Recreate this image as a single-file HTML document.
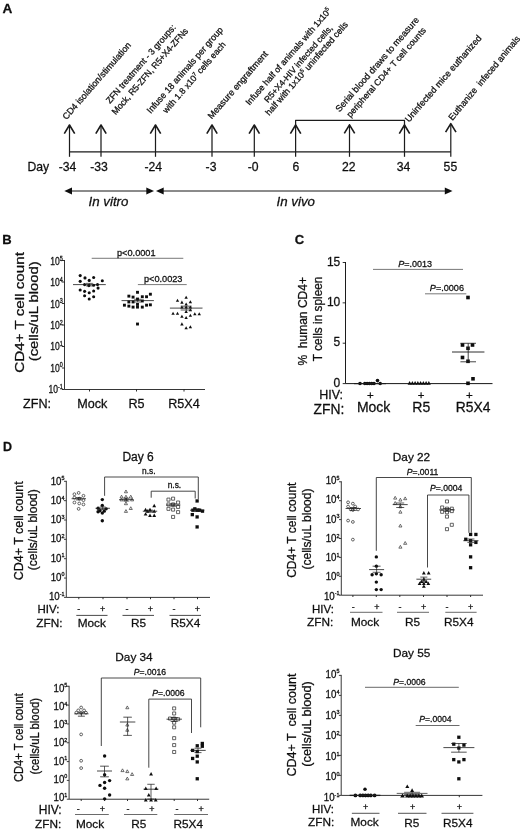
<!DOCTYPE html>
<html><head><meta charset="utf-8"><title>Figure</title>
<style>
html,body{margin:0;padding:0;background:#fff;}
svg{display:block;font-family:'Liberation Sans', sans-serif;}
text{stroke:#111;stroke-width:0.28px;}
</style></head>
<body>
<svg width="520" height="830" viewBox="0 0 520 830" font-family="Liberation Sans, sans-serif">
<defs><filter id="soft" x="0" y="0" width="520" height="830" filterUnits="userSpaceOnUse"><feGaussianBlur stdDeviation="0.38"/></filter></defs>
<rect width="520" height="830" fill="#fff"/>
<g filter="url(#soft)" stroke-linejoin="round">
<text x="2.50" y="13.20" font-size="13.6" text-anchor="start" font-weight="bold" font-style="normal" fill="#111" >A</text>
<line x1="69.50" y1="151.80" x2="450.80" y2="151.80" stroke="#1a1a1a" stroke-width="1.2"/>
<line x1="69.50" y1="125.50" x2="69.50" y2="156.80" stroke="#1a1a1a" stroke-width="1.2"/>
<path d="M64.30,133.60 L69.50,125.00 L74.70,133.60" stroke="#1a1a1a" stroke-width="1.6" fill="none"/>
<line x1="101.00" y1="125.50" x2="101.00" y2="156.80" stroke="#1a1a1a" stroke-width="1.2"/>
<path d="M95.80,133.60 L101.00,125.00 L106.20,133.60" stroke="#1a1a1a" stroke-width="1.6" fill="none"/>
<line x1="155.50" y1="125.50" x2="155.50" y2="156.80" stroke="#1a1a1a" stroke-width="1.2"/>
<path d="M150.30,133.60 L155.50,125.00 L160.70,133.60" stroke="#1a1a1a" stroke-width="1.6" fill="none"/>
<line x1="212.00" y1="125.50" x2="212.00" y2="156.80" stroke="#1a1a1a" stroke-width="1.2"/>
<path d="M206.80,133.60 L212.00,125.00 L217.20,133.60" stroke="#1a1a1a" stroke-width="1.6" fill="none"/>
<line x1="254.30" y1="125.50" x2="254.30" y2="156.80" stroke="#1a1a1a" stroke-width="1.2"/>
<path d="M249.10,133.60 L254.30,125.00 L259.50,133.60" stroke="#1a1a1a" stroke-width="1.6" fill="none"/>
<line x1="295.60" y1="125.50" x2="295.60" y2="156.80" stroke="#1a1a1a" stroke-width="1.2"/>
<path d="M290.40,133.60 L295.60,125.00 L300.80,133.60" stroke="#1a1a1a" stroke-width="1.6" fill="none"/>
<line x1="349.50" y1="125.30" x2="349.50" y2="156.80" stroke="#1a1a1a" stroke-width="1.2"/>
<path d="M344.30,133.40 L349.50,124.80 L354.70,133.40" stroke="#1a1a1a" stroke-width="1.6" fill="none"/>
<line x1="404.50" y1="125.50" x2="404.50" y2="156.80" stroke="#1a1a1a" stroke-width="1.2"/>
<path d="M399.30,133.60 L404.50,125.00 L409.70,133.60" stroke="#1a1a1a" stroke-width="1.6" fill="none"/>
<line x1="450.80" y1="124.10" x2="450.80" y2="156.80" stroke="#1a1a1a" stroke-width="1.2"/>
<path d="M445.60,132.20 L450.80,123.60 L456.00,132.20" stroke="#1a1a1a" stroke-width="1.6" fill="none"/>
<path d="M295.6,126 L295.6,120.4 L404.5,120.4 L404.5,126" stroke="#1a1a1a" stroke-width="1.2" fill="none"/>
<text x="27.50" y="170.80" font-size="12.2" text-anchor="start" font-weight="normal" font-style="normal" fill="#111" >Day</text>
<text x="67.50" y="170.80" font-size="12.2" text-anchor="middle" font-weight="normal" font-style="normal" fill="#111" >-34</text>
<text x="99.00" y="170.80" font-size="12.2" text-anchor="middle" font-weight="normal" font-style="normal" fill="#111" >-33</text>
<text x="153.20" y="170.80" font-size="12.2" text-anchor="middle" font-weight="normal" font-style="normal" fill="#111" >-24</text>
<text x="211.00" y="170.80" font-size="12.2" text-anchor="middle" font-weight="normal" font-style="normal" fill="#111" >-3</text>
<text x="253.20" y="170.80" font-size="12.2" text-anchor="middle" font-weight="normal" font-style="normal" fill="#111" >-0</text>
<text x="296.00" y="170.80" font-size="12.2" text-anchor="middle" font-weight="normal" font-style="normal" fill="#111" >6</text>
<text x="348.80" y="170.80" font-size="12.2" text-anchor="middle" font-weight="normal" font-style="normal" fill="#111" >22</text>
<text x="403.50" y="170.80" font-size="12.2" text-anchor="middle" font-weight="normal" font-style="normal" fill="#111" >34</text>
<text x="450.40" y="170.80" font-size="12.2" text-anchor="middle" font-weight="normal" font-style="normal" fill="#111" >55</text>
<line x1="70.00" y1="191.00" x2="148.00" y2="191.00" stroke="#1a1a1a" stroke-width="1.0"/>
<path d="M64.3,191 L72.0,187.6 L72.0,194.4 Z" fill="#111"/>
<path d="M154,191 L146.3,187.6 L146.3,194.4 Z" fill="#111"/>
<line x1="162.00" y1="191.00" x2="446.00" y2="191.00" stroke="#1a1a1a" stroke-width="1.0"/>
<path d="M156,191 L163.7,187.6 L163.7,194.4 Z" fill="#111"/>
<path d="M452.5,191 L444.8,187.6 L444.8,194.4 Z" fill="#111"/>
<text x="88.50" y="206.30" font-size="13.3" text-anchor="start" font-weight="normal" font-style="italic" fill="#111" >In vitro</text>
<text x="276.50" y="206.00" font-size="13.3" text-anchor="start" font-weight="normal" font-style="italic" fill="#111" >In vivo</text>
<text transform="translate(66.50,120.25) rotate(-49)" font-size="9.05" text-anchor="start" fill="#111" textLength="99" lengthAdjust="spacingAndGlyphs">CD4 isolation/stimulation</text>
<text transform="translate(110.00,104.00) rotate(-49)" font-size="9.05" text-anchor="start" fill="#111" textLength="101" lengthAdjust="spacingAndGlyphs">ZFN treatment - 3 groups:</text>
<text transform="translate(115.80,115.20) rotate(-49)" font-size="9.05" text-anchor="start" fill="#111" textLength="111" lengthAdjust="spacingAndGlyphs">Mock, R5-ZFN, R5+X4-ZFNs</text>
<text transform="translate(150.75,114.00) rotate(-49)" font-size="9.05" text-anchor="start" fill="#111" textLength="111" lengthAdjust="spacingAndGlyphs">Infuse 18 animals per group</text>
<text transform="translate(166.50,113.75) rotate(-49)" font-size="8.75" text-anchor="start" fill="#111" >with 1.8 x10<tspan font-size="5.6" dy="-3.2">7</tspan><tspan dy="3.2"> cells each</tspan></text>
<text transform="translate(211.75,119.50) rotate(-49)" font-size="9.05" text-anchor="start" fill="#111" textLength="86.5" lengthAdjust="spacingAndGlyphs">Measure engraftment</text>
<text transform="translate(249.50,105.75) rotate(-49)" font-size="8.78" text-anchor="start" fill="#111" >Infuse half of animals with 1x10<tspan font-size="5.6" dy="-3.2">5</tspan></text>
<text transform="translate(268.00,103.30) rotate(-49)" font-size="8.7" text-anchor="start" fill="#111" >R5+X4-HIV infected cells,</text>
<text transform="translate(269.25,116.00) rotate(-49)" font-size="8.85" text-anchor="start" fill="#111" >half with 1x10<tspan font-size="5.6" dy="-3.2">5</tspan><tspan dy="3.2"> uninfected cells</tspan></text>
<text transform="translate(339.50,112.50) rotate(-49)" font-size="9.05" text-anchor="start" fill="#111" >Serial blood draws to measure</text>
<text transform="translate(350.50,118.00) rotate(-49)" font-size="8.8" text-anchor="start" fill="#111" >peripheral CD4+ T cell counts</text>
<text transform="translate(408.90,122.70) rotate(-49)" font-size="9.05" text-anchor="start" fill="#111" >Uninfected mice euthanized</text>
<text transform="translate(452.40,120.90) rotate(-50.2)" font-size="9.05" text-anchor="start" fill="#111" xml:space="preserve" textLength="106.5" lengthAdjust="spacingAndGlyphs">Euthanize  infeced animals</text>
<text x="2.30" y="243.80" font-size="13" text-anchor="start" font-weight="bold" font-style="normal" fill="#111" >B</text>
<line x1="64.50" y1="260.00" x2="64.50" y2="389.50" stroke="#2a2a2a" stroke-width="0.95"/>
<line x1="64.50" y1="389.50" x2="205.00" y2="389.50" stroke="#2a2a2a" stroke-width="0.95"/>
<line x1="62.00" y1="260.50" x2="64.50" y2="260.50" stroke="#1a1a1a" stroke-width="0.9"/>
<text transform="translate(62.70,265.15) scale(0.84,1)" font-size="10.2" text-anchor="end" fill="#111">10<tspan font-size="6.4" dy="-4.39">5</tspan></text>
<line x1="62.00" y1="282.00" x2="64.50" y2="282.00" stroke="#1a1a1a" stroke-width="0.9"/>
<text transform="translate(62.70,286.47) scale(0.84,1)" font-size="10.2" text-anchor="end" fill="#111">10<tspan font-size="6.4" dy="-4.39">4</tspan></text>
<line x1="62.00" y1="303.50" x2="64.50" y2="303.50" stroke="#1a1a1a" stroke-width="0.9"/>
<text transform="translate(62.70,307.78) scale(0.84,1)" font-size="10.2" text-anchor="end" fill="#111">10<tspan font-size="6.4" dy="-4.39">3</tspan></text>
<line x1="62.00" y1="325.00" x2="64.50" y2="325.00" stroke="#1a1a1a" stroke-width="0.9"/>
<text transform="translate(62.70,329.10) scale(0.84,1)" font-size="10.2" text-anchor="end" fill="#111">10<tspan font-size="6.4" dy="-4.39">2</tspan></text>
<line x1="62.00" y1="346.50" x2="64.50" y2="346.50" stroke="#1a1a1a" stroke-width="0.9"/>
<text transform="translate(62.70,350.42) scale(0.84,1)" font-size="10.2" text-anchor="end" fill="#111">10<tspan font-size="6.4" dy="-4.39">1</tspan></text>
<line x1="62.00" y1="368.00" x2="64.50" y2="368.00" stroke="#1a1a1a" stroke-width="0.9"/>
<text transform="translate(62.70,371.73) scale(0.84,1)" font-size="10.2" text-anchor="end" fill="#111">10<tspan font-size="6.4" dy="-4.39">0</tspan></text>
<line x1="62.00" y1="389.50" x2="64.50" y2="389.50" stroke="#1a1a1a" stroke-width="0.9"/>
<text transform="translate(62.70,393.05) scale(0.84,1)" font-size="10.2" text-anchor="end" fill="#111">10<tspan font-size="6.4" dy="-4.39">-1</tspan></text>
<line x1="89.50" y1="389.50" x2="89.50" y2="391.50" stroke="#1a1a1a" stroke-width="0.9"/>
<line x1="136.50" y1="389.50" x2="136.50" y2="391.50" stroke="#1a1a1a" stroke-width="0.9"/>
<line x1="184.00" y1="389.50" x2="184.00" y2="391.50" stroke="#1a1a1a" stroke-width="0.9"/>
<text transform="translate(23.60,312.40) rotate(-90)" font-size="12.5" text-anchor="middle" fill="#111" textLength="120.5" lengthAdjust="spacingAndGlyphs">CD4+ T cell count</text>
<text transform="translate(38.30,311.30) rotate(-90)" font-size="12.5" text-anchor="middle" fill="#111" textLength="100" lengthAdjust="spacingAndGlyphs">(cells/uL blood)</text>
<text x="23.00" y="407.50" font-size="12.6" text-anchor="start" font-weight="normal" font-style="normal" fill="#111" >ZFN:</text>
<text x="92.20" y="407.50" font-size="12.6" text-anchor="middle" font-weight="normal" font-style="normal" fill="#111" >Mock</text>
<text x="136.50" y="407.50" font-size="12.6" text-anchor="middle" font-weight="normal" font-style="normal" fill="#111" >R5</text>
<text x="184.00" y="407.50" font-size="12.6" text-anchor="middle" font-weight="normal" font-style="normal" fill="#111" >R5X4</text>
<line x1="91.70" y1="258.30" x2="183.30" y2="258.30" stroke="#555" stroke-width="0.8"/>
<text x="136.30" y="255.80" font-size="9.2" text-anchor="middle" font-weight="normal" font-style="normal" fill="#111" >p&lt;0.0001</text>
<line x1="137.90" y1="284.60" x2="186.70" y2="284.60" stroke="#555" stroke-width="0.8"/>
<text x="163.20" y="281.70" font-size="9.2" text-anchor="middle" font-weight="normal" font-style="normal" fill="#111" >p&lt;0.0023</text>
<circle cx="80.19" cy="275.58" r="1.55" fill="#111"/>
<circle cx="85.00" cy="277.88" r="1.55" fill="#111"/>
<circle cx="93.65" cy="277.50" r="1.55" fill="#111"/>
<circle cx="80.19" cy="281.35" r="1.55" fill="#111"/>
<circle cx="89.23" cy="280.38" r="1.55" fill="#111"/>
<circle cx="102.31" cy="280.77" r="1.55" fill="#111"/>
<circle cx="84.62" cy="284.62" r="1.55" fill="#111"/>
<circle cx="88.85" cy="285.58" r="1.55" fill="#111"/>
<circle cx="93.65" cy="285.19" r="1.55" fill="#111"/>
<circle cx="97.50" cy="284.62" r="1.55" fill="#111"/>
<circle cx="98.08" cy="288.08" r="1.55" fill="#111"/>
<circle cx="80.19" cy="290.00" r="1.55" fill="#111"/>
<circle cx="84.62" cy="291.35" r="1.55" fill="#111"/>
<circle cx="93.65" cy="290.96" r="1.55" fill="#111"/>
<circle cx="89.23" cy="292.69" r="1.55" fill="#111"/>
<circle cx="84.62" cy="295.77" r="1.55" fill="#111"/>
<circle cx="93.65" cy="296.73" r="1.55" fill="#111"/>
<circle cx="89.23" cy="299.04" r="1.55" fill="#111"/>
<line x1="73.00" y1="284.60" x2="105.80" y2="284.60" stroke="#1a1a1a" stroke-width="0.8"/>
<line x1="85.90" y1="283.40" x2="92.90" y2="283.40" stroke="#1a1a1a" stroke-width="0.7200000000000001"/>
<line x1="85.90" y1="285.90" x2="92.90" y2="285.90" stroke="#1a1a1a" stroke-width="0.7200000000000001"/>
<line x1="89.40" y1="283.40" x2="89.40" y2="285.90" stroke="#1a1a1a" stroke-width="0.7200000000000001"/>
<rect x="136.05" y="290.86" width="2.9" height="2.9" fill="#111"/>
<rect x="148.93" y="292.78" width="2.9" height="2.9" fill="#111"/>
<rect x="127.40" y="294.70" width="2.9" height="2.9" fill="#111"/>
<rect x="131.63" y="295.67" width="2.9" height="2.9" fill="#111"/>
<rect x="140.86" y="295.28" width="2.9" height="2.9" fill="#111"/>
<rect x="145.09" y="295.28" width="2.9" height="2.9" fill="#111"/>
<rect x="136.05" y="297.59" width="2.9" height="2.9" fill="#111"/>
<rect x="140.86" y="299.51" width="2.9" height="2.9" fill="#111"/>
<rect x="127.40" y="300.47" width="2.9" height="2.9" fill="#111"/>
<rect x="131.63" y="300.47" width="2.9" height="2.9" fill="#111"/>
<rect x="122.97" y="303.74" width="2.9" height="2.9" fill="#111"/>
<rect x="127.40" y="304.70" width="2.9" height="2.9" fill="#111"/>
<rect x="136.05" y="302.97" width="2.9" height="2.9" fill="#111"/>
<rect x="145.09" y="303.74" width="2.9" height="2.9" fill="#111"/>
<rect x="148.93" y="303.36" width="2.9" height="2.9" fill="#111"/>
<rect x="131.63" y="305.67" width="2.9" height="2.9" fill="#111"/>
<rect x="136.05" y="305.67" width="2.9" height="2.9" fill="#111"/>
<rect x="140.86" y="305.67" width="2.9" height="2.9" fill="#111"/>
<rect x="136.05" y="322.59" width="2.9" height="2.9" fill="#111"/>
<line x1="121.50" y1="300.60" x2="153.90" y2="300.60" stroke="#1a1a1a" stroke-width="0.8"/>
<line x1="134.20" y1="299.30" x2="141.20" y2="299.30" stroke="#1a1a1a" stroke-width="0.7200000000000001"/>
<line x1="134.20" y1="302.00" x2="141.20" y2="302.00" stroke="#1a1a1a" stroke-width="0.7200000000000001"/>
<line x1="137.70" y1="299.30" x2="137.70" y2="302.00" stroke="#1a1a1a" stroke-width="0.7200000000000001"/>
<path d="M186.15,295.80 L187.85,298.86 L184.45,298.86 Z" fill="#111"/>
<path d="M177.50,298.68 L179.20,301.74 L175.80,301.74 Z" fill="#111"/>
<path d="M190.38,300.22 L192.08,303.28 L188.68,303.28 Z" fill="#111"/>
<path d="M181.92,300.61 L183.62,303.67 L180.22,303.67 Z" fill="#111"/>
<path d="M186.15,302.53 L187.85,305.59 L184.45,305.59 Z" fill="#111"/>
<path d="M181.92,305.42 L183.62,308.48 L180.22,308.48 Z" fill="#111"/>
<path d="M186.15,305.42 L187.85,308.48 L184.45,308.48 Z" fill="#111"/>
<path d="M190.38,305.42 L192.08,308.48 L188.68,308.48 Z" fill="#111"/>
<path d="M190.38,308.30 L192.08,311.36 L188.68,311.36 Z" fill="#111"/>
<path d="M186.15,309.84 L187.85,312.90 L184.45,312.90 Z" fill="#111"/>
<path d="M173.08,311.76 L174.78,314.82 L171.38,314.82 Z" fill="#111"/>
<path d="M177.50,311.76 L179.20,314.82 L175.80,314.82 Z" fill="#111"/>
<path d="M194.81,312.15 L196.51,315.21 L193.11,315.21 Z" fill="#111"/>
<path d="M199.23,312.15 L200.93,315.21 L197.53,315.21 Z" fill="#111"/>
<path d="M190.38,313.68 L192.08,316.74 L188.68,316.74 Z" fill="#111"/>
<path d="M181.92,314.65 L183.62,317.71 L180.22,317.71 Z" fill="#111"/>
<path d="M186.15,315.99 L187.85,319.05 L184.45,319.05 Z" fill="#111"/>
<path d="M181.92,322.34 L183.62,325.40 L180.22,325.40 Z" fill="#111"/>
<path d="M190.38,325.22 L192.08,328.28 L188.68,328.28 Z" fill="#111"/>
<path d="M186.15,326.18 L187.85,329.24 L184.45,329.24 Z" fill="#111"/>
<line x1="169.90" y1="308.10" x2="202.50" y2="308.10" stroke="#1a1a1a" stroke-width="0.8"/>
<line x1="180.70" y1="306.20" x2="191.70" y2="306.20" stroke="#1a1a1a" stroke-width="0.7200000000000001"/>
<line x1="180.70" y1="310.00" x2="191.70" y2="310.00" stroke="#1a1a1a" stroke-width="0.7200000000000001"/>
<line x1="186.20" y1="306.20" x2="186.20" y2="310.00" stroke="#1a1a1a" stroke-width="0.7200000000000001"/>
<text x="294.80" y="243.80" font-size="13" text-anchor="start" font-weight="bold" font-style="normal" fill="#111" >C</text>
<line x1="345.50" y1="262.00" x2="345.50" y2="383.60" stroke="#1a1a1a" stroke-width="1.0"/>
<line x1="345.50" y1="383.60" x2="492.50" y2="383.60" stroke="#1a1a1a" stroke-width="1.0"/>
<line x1="342.70" y1="262.50" x2="345.50" y2="262.50" stroke="#1a1a1a" stroke-width="0.9"/>
<text x="340.30" y="265.70" font-size="12" text-anchor="end" font-weight="normal" font-style="normal" fill="#111" >15</text>
<line x1="342.70" y1="302.85" x2="345.50" y2="302.85" stroke="#1a1a1a" stroke-width="0.9"/>
<text x="340.30" y="306.05" font-size="12" text-anchor="end" font-weight="normal" font-style="normal" fill="#111" >10</text>
<line x1="342.70" y1="343.20" x2="345.50" y2="343.20" stroke="#1a1a1a" stroke-width="0.9"/>
<text x="340.30" y="346.40" font-size="12" text-anchor="end" font-weight="normal" font-style="normal" fill="#111" >5</text>
<line x1="342.70" y1="383.60" x2="345.50" y2="383.60" stroke="#1a1a1a" stroke-width="0.9"/>
<text x="340.30" y="386.80" font-size="12" text-anchor="end" font-weight="normal" font-style="normal" fill="#111" >0</text>
<text transform="translate(307.30,321.30) rotate(-90)" font-size="12.3" text-anchor="middle" fill="#111" xml:space="preserve" textLength="88.5" lengthAdjust="spacingAndGlyphs">%  human CD4+</text>
<text transform="translate(321.60,318.90) rotate(-90)" font-size="12" text-anchor="middle" fill="#111" textLength="84.5" lengthAdjust="spacingAndGlyphs">T cells in spleen</text>
<text x="319.20" y="399.00" font-size="12.5" text-anchor="start" font-weight="normal" font-style="normal" fill="#111" >HIV:</text>
<text x="313.50" y="413.70" font-size="13.85" text-anchor="start" font-weight="normal" font-style="normal" fill="#111" >ZFN:</text>
<text x="370.40" y="399.10" font-size="11.5" text-anchor="middle" font-weight="normal" font-style="normal" fill="#111" >+</text>
<text x="421.20" y="399.10" font-size="11.5" text-anchor="middle" font-weight="normal" font-style="normal" fill="#111" >+</text>
<text x="469.40" y="399.10" font-size="11.5" text-anchor="middle" font-weight="normal" font-style="normal" fill="#111" >+</text>
<text x="356.90" y="412.20" font-size="14" text-anchor="start" font-weight="normal" font-style="normal" fill="#111" >Mock</text>
<text x="412.30" y="412.20" font-size="14" text-anchor="start" font-weight="normal" font-style="normal" fill="#111" >R5</text>
<text x="455.80" y="412.20" font-size="13.85" text-anchor="start" font-weight="normal" font-style="normal" fill="#111" >R5X4</text>
<line x1="373.00" y1="269.40" x2="463.00" y2="269.40" stroke="#555" stroke-width="0.8"/>
<text x="415.20" y="267.30" font-size="9.0" text-anchor="middle" font-weight="normal" font-style="normal" fill="#111" ><tspan font-style="italic">P</tspan>=.0013</text>
<line x1="425.00" y1="293.80" x2="466.30" y2="293.80" stroke="#555" stroke-width="0.8"/>
<text x="446.90" y="291.20" font-size="9.1" text-anchor="middle" font-weight="normal" font-style="normal" fill="#111" ><tspan font-style="italic">P</tspan>=.0006</text>
<circle cx="360.00" cy="383.50" r="1.8" fill="#111"/>
<circle cx="364.80" cy="383.50" r="1.8" fill="#111"/>
<circle cx="367.10" cy="383.50" r="1.8" fill="#111"/>
<circle cx="369.40" cy="383.50" r="1.8" fill="#111"/>
<circle cx="371.70" cy="383.50" r="1.8" fill="#111"/>
<circle cx="374.00" cy="383.50" r="1.8" fill="#111"/>
<circle cx="377.50" cy="380.60" r="1.8" fill="#111"/>
<circle cx="380.20" cy="383.50" r="1.8" fill="#111"/>
<line x1="354.00" y1="383.60" x2="386.00" y2="383.60" stroke="#1a1a1a" stroke-width="1.2"/>
<path d="M409.60,381.10 L411.60,384.70 L407.60,384.70 Z" fill="#111"/>
<path d="M412.35,381.10 L414.35,384.70 L410.35,384.70 Z" fill="#111"/>
<path d="M415.10,381.10 L417.10,384.70 L413.10,384.70 Z" fill="#111"/>
<path d="M417.85,381.10 L419.85,384.70 L415.85,384.70 Z" fill="#111"/>
<path d="M420.60,381.10 L422.60,384.70 L418.60,384.70 Z" fill="#111"/>
<path d="M423.35,381.10 L425.35,384.70 L421.35,384.70 Z" fill="#111"/>
<path d="M426.10,381.10 L428.10,384.70 L424.10,384.70 Z" fill="#111"/>
<path d="M428.85,381.10 L430.85,384.70 L426.85,384.70 Z" fill="#111"/>
<rect x="466.20" y="295.70" width="3.6" height="3.6" fill="#111"/>
<rect x="460.70" y="343.20" width="3.6" height="3.6" fill="#111"/>
<rect x="470.70" y="343.20" width="3.6" height="3.6" fill="#111"/>
<rect x="466.20" y="346.50" width="3.6" height="3.6" fill="#111"/>
<rect x="460.70" y="355.70" width="3.6" height="3.6" fill="#111"/>
<rect x="466.20" y="359.50" width="3.6" height="3.6" fill="#111"/>
<rect x="471.20" y="377.00" width="3.6" height="3.6" fill="#111"/>
<rect x="466.20" y="381.50" width="3.6" height="3.6" fill="#111"/>
<line x1="452.00" y1="352.00" x2="484.40" y2="352.00" stroke="#1a1a1a" stroke-width="0.9"/>
<line x1="460.40" y1="343.30" x2="476.00" y2="343.30" stroke="#1a1a1a" stroke-width="0.81"/>
<line x1="460.40" y1="361.80" x2="476.00" y2="361.80" stroke="#1a1a1a" stroke-width="0.81"/>
<line x1="468.20" y1="343.30" x2="468.20" y2="361.80" stroke="#1a1a1a" stroke-width="0.81"/>
<text x="3.00" y="451.30" font-size="12.5" text-anchor="start" font-weight="bold" font-style="normal" fill="#111" >D</text>
<text x="138.10" y="460.60" font-size="12" text-anchor="middle" font-weight="normal" font-style="normal" fill="#111" >Day 6</text>
<line x1="66.30" y1="480.80" x2="66.30" y2="597.40" stroke="#2a2a2a" stroke-width="0.95"/>
<line x1="66.30" y1="597.40" x2="210.00" y2="597.40" stroke="#2a2a2a" stroke-width="0.95"/>
<line x1="64.00" y1="481.30" x2="66.30" y2="481.30" stroke="#2a2a2a" stroke-width="0.9"/>
<text transform="translate(64.50,484.73) scale(0.97,1)" font-size="10" text-anchor="end" fill="#111">10<tspan font-size="5.6" dy="-4.30">5</tspan></text>
<line x1="64.00" y1="500.65" x2="66.30" y2="500.65" stroke="#2a2a2a" stroke-width="0.9"/>
<text transform="translate(64.50,503.94) scale(0.97,1)" font-size="10" text-anchor="end" fill="#111">10<tspan font-size="5.6" dy="-4.30">4</tspan></text>
<line x1="64.00" y1="520.00" x2="66.30" y2="520.00" stroke="#2a2a2a" stroke-width="0.9"/>
<text transform="translate(64.50,523.15) scale(0.97,1)" font-size="10" text-anchor="end" fill="#111">10<tspan font-size="5.6" dy="-4.30">3</tspan></text>
<line x1="64.00" y1="539.35" x2="66.30" y2="539.35" stroke="#2a2a2a" stroke-width="0.9"/>
<text transform="translate(64.50,542.36) scale(0.97,1)" font-size="10" text-anchor="end" fill="#111">10<tspan font-size="5.6" dy="-4.30">2</tspan></text>
<line x1="64.00" y1="558.70" x2="66.30" y2="558.70" stroke="#2a2a2a" stroke-width="0.9"/>
<text transform="translate(64.50,561.56) scale(0.97,1)" font-size="10" text-anchor="end" fill="#111">10<tspan font-size="5.6" dy="-4.30">1</tspan></text>
<line x1="64.00" y1="578.05" x2="66.30" y2="578.05" stroke="#2a2a2a" stroke-width="0.9"/>
<text transform="translate(64.50,580.77) scale(0.97,1)" font-size="10" text-anchor="end" fill="#111">10<tspan font-size="5.6" dy="-4.30">0</tspan></text>
<line x1="64.00" y1="597.40" x2="66.30" y2="597.40" stroke="#2a2a2a" stroke-width="0.9"/>
<text transform="translate(64.50,599.98) scale(0.97,1)" font-size="10" text-anchor="end" fill="#111">10<tspan font-size="5.6" dy="-4.30">-1</tspan></text>
<line x1="78.80" y1="597.40" x2="78.80" y2="599.20" stroke="#1a1a1a" stroke-width="0.9"/>
<line x1="103.00" y1="597.40" x2="103.00" y2="599.20" stroke="#1a1a1a" stroke-width="0.9"/>
<line x1="127.00" y1="597.40" x2="127.00" y2="599.20" stroke="#1a1a1a" stroke-width="0.9"/>
<line x1="150.50" y1="597.40" x2="150.50" y2="599.20" stroke="#1a1a1a" stroke-width="0.9"/>
<line x1="174.00" y1="597.40" x2="174.00" y2="599.20" stroke="#1a1a1a" stroke-width="0.9"/>
<line x1="197.50" y1="597.40" x2="197.50" y2="599.20" stroke="#1a1a1a" stroke-width="0.9"/>
<text transform="translate(22.80,530.80) rotate(-90)" font-size="12" text-anchor="middle" fill="#111" textLength="99" lengthAdjust="spacingAndGlyphs">CD4+ T  cell count</text>
<text transform="translate(37.00,529.70) rotate(-90)" font-size="12" text-anchor="middle" fill="#111" >(cells/uL blood)</text>
<text x="37.50" y="613.00" font-size="11.5" text-anchor="start" font-weight="normal" font-style="normal" fill="#111" >HIV:</text>
<text x="36.30" y="627.00" font-size="11.8" text-anchor="start" font-weight="normal" font-style="normal" fill="#111" >ZFN:</text>
<text x="78.80" y="612.00" font-size="9" text-anchor="middle" font-weight="normal" font-style="normal" fill="#111" >-</text>
<text x="102.60" y="612.00" font-size="9" text-anchor="middle" font-weight="normal" font-style="normal" fill="#111" >+</text>
<text x="127.00" y="612.00" font-size="9" text-anchor="middle" font-weight="normal" font-style="normal" fill="#111" >-</text>
<text x="150.50" y="612.00" font-size="9" text-anchor="middle" font-weight="normal" font-style="normal" fill="#111" >+</text>
<text x="174.00" y="612.00" font-size="9" text-anchor="middle" font-weight="normal" font-style="normal" fill="#111" >-</text>
<text x="197.50" y="612.00" font-size="9" text-anchor="middle" font-weight="normal" font-style="normal" fill="#111" >+</text>
<line x1="76.30" y1="615.40" x2="107.50" y2="615.40" stroke="#333" stroke-width="0.9"/>
<line x1="122.50" y1="615.40" x2="154.00" y2="615.40" stroke="#333" stroke-width="0.9"/>
<line x1="169.50" y1="615.40" x2="201.00" y2="615.40" stroke="#333" stroke-width="0.9"/>
<text x="91.80" y="627.00" font-size="11.8" text-anchor="middle" font-weight="normal" font-style="normal" fill="#111" >Mock</text>
<text x="138.50" y="627.00" font-size="11.8" text-anchor="middle" font-weight="normal" font-style="normal" fill="#111" >R5</text>
<text x="185.50" y="627.00" font-size="11.8" text-anchor="middle" font-weight="normal" font-style="normal" fill="#111" >R5X4</text>
<path d="M104.6,495.8 L104.6,477 L198.3,477 L198.3,499.2" stroke="#333" stroke-width="0.9" fill="none"/>
<path d="M151.2,497.7 L151.2,491.2 L195.2,491.2 L195.2,498.5" stroke="#333" stroke-width="0.9" fill="none"/>
<text x="148.80" y="473.90" font-size="8.4" text-anchor="middle" font-weight="normal" font-style="normal" fill="#111" >n.s.</text>
<text x="174.40" y="488.30" font-size="8.4" text-anchor="middle" font-weight="normal" font-style="normal" fill="#111" >n.s.</text>
<circle cx="74.42" cy="494.23" r="1.4" fill="#fff" stroke="#333" stroke-width="0.75"/>
<circle cx="78.65" cy="492.88" r="1.4" fill="#fff" stroke="#333" stroke-width="0.75"/>
<circle cx="83.46" cy="495.77" r="1.4" fill="#fff" stroke="#333" stroke-width="0.75"/>
<circle cx="74.42" cy="497.69" r="1.4" fill="#fff" stroke="#333" stroke-width="0.75"/>
<circle cx="79.23" cy="498.65" r="1.4" fill="#fff" stroke="#333" stroke-width="0.75"/>
<circle cx="83.46" cy="500.19" r="1.4" fill="#fff" stroke="#333" stroke-width="0.75"/>
<circle cx="74.42" cy="502.50" r="1.4" fill="#fff" stroke="#333" stroke-width="0.75"/>
<circle cx="79.23" cy="503.46" r="1.4" fill="#fff" stroke="#333" stroke-width="0.75"/>
<circle cx="83.46" cy="504.42" r="1.4" fill="#fff" stroke="#333" stroke-width="0.75"/>
<circle cx="78.65" cy="508.85" r="1.4" fill="#fff" stroke="#333" stroke-width="0.75"/>
<line x1="71.60" y1="498.70" x2="86.00" y2="498.70" stroke="#1a1a1a" stroke-width="0.8"/>
<line x1="75.80" y1="497.60" x2="81.80" y2="497.60" stroke="#1a1a1a" stroke-width="0.7200000000000001"/>
<line x1="75.80" y1="499.90" x2="81.80" y2="499.90" stroke="#1a1a1a" stroke-width="0.7200000000000001"/>
<line x1="78.80" y1="497.60" x2="78.80" y2="499.90" stroke="#1a1a1a" stroke-width="0.7200000000000001"/>
<circle cx="102.31" cy="499.62" r="1.7" fill="#111"/>
<circle cx="102.31" cy="505.38" r="1.7" fill="#111"/>
<circle cx="98.08" cy="508.27" r="1.7" fill="#111"/>
<circle cx="106.15" cy="508.85" r="1.7" fill="#111"/>
<circle cx="100.00" cy="510.77" r="1.7" fill="#111"/>
<circle cx="104.23" cy="511.15" r="1.7" fill="#111"/>
<circle cx="98.08" cy="511.73" r="1.7" fill="#111"/>
<circle cx="102.31" cy="513.08" r="1.7" fill="#111"/>
<circle cx="102.31" cy="520.77" r="1.7" fill="#111"/>
<line x1="95.50" y1="508.30" x2="109.90" y2="508.30" stroke="#1a1a1a" stroke-width="0.8"/>
<line x1="99.70" y1="507.00" x2="105.70" y2="507.00" stroke="#1a1a1a" stroke-width="0.7200000000000001"/>
<line x1="99.70" y1="509.60" x2="105.70" y2="509.60" stroke="#1a1a1a" stroke-width="0.7200000000000001"/>
<line x1="102.70" y1="507.00" x2="102.70" y2="509.60" stroke="#1a1a1a" stroke-width="0.7200000000000001"/>
<path d="M125.96,489.99 L127.51,492.78 L124.41,492.78 Z" fill="#fff" stroke="#333" stroke-width="0.7"/>
<path d="M121.54,495.18 L123.09,497.97 L119.99,497.97 Z" fill="#fff" stroke="#333" stroke-width="0.7"/>
<path d="M125.96,495.18 L127.51,497.97 L124.41,497.97 Z" fill="#fff" stroke="#333" stroke-width="0.7"/>
<path d="M130.77,495.18 L132.32,497.97 L129.22,497.97 Z" fill="#fff" stroke="#333" stroke-width="0.7"/>
<path d="M121.54,498.07 L123.09,500.86 L119.99,500.86 Z" fill="#fff" stroke="#333" stroke-width="0.7"/>
<path d="M125.96,498.07 L127.51,500.86 L124.41,500.86 Z" fill="#fff" stroke="#333" stroke-width="0.7"/>
<path d="M132.12,498.07 L133.67,500.86 L130.57,500.86 Z" fill="#fff" stroke="#333" stroke-width="0.7"/>
<path d="M125.96,501.91 L127.51,504.70 L124.41,504.70 Z" fill="#fff" stroke="#333" stroke-width="0.7"/>
<path d="M130.77,506.72 L132.32,509.51 L129.22,509.51 Z" fill="#fff" stroke="#333" stroke-width="0.7"/>
<path d="M125.96,509.60 L127.51,512.39 L124.41,512.39 Z" fill="#fff" stroke="#333" stroke-width="0.7"/>
<line x1="119.10" y1="499.60" x2="133.50" y2="499.60" stroke="#1a1a1a" stroke-width="0.8"/>
<line x1="123.30" y1="498.30" x2="129.30" y2="498.30" stroke="#1a1a1a" stroke-width="0.7200000000000001"/>
<line x1="123.30" y1="501.00" x2="129.30" y2="501.00" stroke="#1a1a1a" stroke-width="0.7200000000000001"/>
<line x1="126.30" y1="498.30" x2="126.30" y2="501.00" stroke="#1a1a1a" stroke-width="0.7200000000000001"/>
<path d="M154.23,503.87 L156.13,507.29 L152.33,507.29 Z" fill="#111"/>
<path d="M145.58,507.72 L147.48,511.14 L143.68,511.14 Z" fill="#111"/>
<path d="M150.00,507.72 L151.90,511.14 L148.10,511.14 Z" fill="#111"/>
<path d="M147.50,509.25 L149.40,512.67 L145.60,512.67 Z" fill="#111"/>
<path d="M154.23,509.25 L156.13,512.67 L152.33,512.67 Z" fill="#111"/>
<path d="M145.58,512.14 L147.48,515.56 L143.68,515.56 Z" fill="#111"/>
<path d="M150.00,513.48 L151.90,516.90 L148.10,516.90 Z" fill="#111"/>
<path d="M154.23,513.48 L156.13,516.90 L152.33,516.90 Z" fill="#111"/>
<line x1="142.80" y1="511.20" x2="157.20" y2="511.20" stroke="#1a1a1a" stroke-width="0.8"/>
<line x1="147.00" y1="510.20" x2="153.00" y2="510.20" stroke="#1a1a1a" stroke-width="0.7200000000000001"/>
<line x1="147.00" y1="512.20" x2="153.00" y2="512.20" stroke="#1a1a1a" stroke-width="0.7200000000000001"/>
<line x1="150.00" y1="510.20" x2="150.00" y2="512.20" stroke="#1a1a1a" stroke-width="0.7200000000000001"/>
<rect x="166.94" y="498.09" width="3.05" height="3.05" fill="#fff" stroke="#333" stroke-width="0.75"/>
<rect x="171.55" y="497.13" width="3.05" height="3.05" fill="#fff" stroke="#333" stroke-width="0.75"/>
<rect x="176.55" y="500.98" width="3.05" height="3.05" fill="#fff" stroke="#333" stroke-width="0.75"/>
<rect x="166.94" y="502.90" width="3.05" height="3.05" fill="#fff" stroke="#333" stroke-width="0.75"/>
<rect x="171.55" y="502.90" width="3.05" height="3.05" fill="#fff" stroke="#333" stroke-width="0.75"/>
<rect x="176.55" y="505.40" width="3.05" height="3.05" fill="#fff" stroke="#333" stroke-width="0.75"/>
<rect x="166.94" y="507.32" width="3.05" height="3.05" fill="#fff" stroke="#333" stroke-width="0.75"/>
<rect x="171.55" y="508.09" width="3.05" height="3.05" fill="#fff" stroke="#333" stroke-width="0.75"/>
<rect x="176.55" y="510.59" width="3.05" height="3.05" fill="#fff" stroke="#333" stroke-width="0.75"/>
<rect x="171.55" y="515.40" width="3.05" height="3.05" fill="#fff" stroke="#333" stroke-width="0.75"/>
<line x1="166.00" y1="505.00" x2="180.40" y2="505.00" stroke="#1a1a1a" stroke-width="0.8"/>
<line x1="170.20" y1="503.80" x2="176.20" y2="503.80" stroke="#1a1a1a" stroke-width="0.7200000000000001"/>
<line x1="170.20" y1="506.20" x2="176.20" y2="506.20" stroke="#1a1a1a" stroke-width="0.7200000000000001"/>
<line x1="173.20" y1="503.80" x2="173.20" y2="506.20" stroke="#1a1a1a" stroke-width="0.7200000000000001"/>
<rect x="195.47" y="499.31" width="3.3" height="3.3" fill="#111"/>
<rect x="193.16" y="507.20" width="3.3" height="3.3" fill="#111"/>
<rect x="191.23" y="508.54" width="3.3" height="3.3" fill="#111"/>
<rect x="195.47" y="508.54" width="3.3" height="3.3" fill="#111"/>
<rect x="197.97" y="508.54" width="3.3" height="3.3" fill="#111"/>
<rect x="200.85" y="509.50" width="3.3" height="3.3" fill="#111"/>
<rect x="190.66" y="512.97" width="3.3" height="3.3" fill="#111"/>
<rect x="195.47" y="515.27" width="3.3" height="3.3" fill="#111"/>
<rect x="195.47" y="525.27" width="3.3" height="3.3" fill="#111"/>
<line x1="190.00" y1="510.20" x2="204.40" y2="510.20" stroke="#1a1a1a" stroke-width="0.8"/>
<line x1="194.20" y1="509.00" x2="200.20" y2="509.00" stroke="#1a1a1a" stroke-width="0.7200000000000001"/>
<line x1="194.20" y1="511.40" x2="200.20" y2="511.40" stroke="#1a1a1a" stroke-width="0.7200000000000001"/>
<line x1="197.20" y1="509.00" x2="197.20" y2="511.40" stroke="#1a1a1a" stroke-width="0.7200000000000001"/>
<text x="411.50" y="460.50" font-size="11.8" text-anchor="middle" font-weight="normal" font-style="normal" fill="#111" >Day 22</text>
<line x1="341.30" y1="481.30" x2="341.30" y2="595.20" stroke="#2a2a2a" stroke-width="0.95"/>
<line x1="341.30" y1="595.20" x2="483.00" y2="595.20" stroke="#2a2a2a" stroke-width="0.95"/>
<line x1="339.00" y1="481.80" x2="341.30" y2="481.80" stroke="#2a2a2a" stroke-width="0.9"/>
<text transform="translate(339.50,484.08) scale(0.97,1)" font-size="10" text-anchor="end" fill="#111">10<tspan font-size="5.6" dy="-4.30">5</tspan></text>
<line x1="339.00" y1="500.70" x2="341.30" y2="500.70" stroke="#2a2a2a" stroke-width="0.9"/>
<text transform="translate(339.50,503.35) scale(0.97,1)" font-size="10" text-anchor="end" fill="#111">10<tspan font-size="5.6" dy="-4.30">4</tspan></text>
<line x1="339.00" y1="519.60" x2="341.30" y2="519.60" stroke="#2a2a2a" stroke-width="0.9"/>
<text transform="translate(339.50,522.61) scale(0.97,1)" font-size="10" text-anchor="end" fill="#111">10<tspan font-size="5.6" dy="-4.30">3</tspan></text>
<line x1="339.00" y1="538.50" x2="341.30" y2="538.50" stroke="#2a2a2a" stroke-width="0.9"/>
<text transform="translate(339.50,541.88) scale(0.97,1)" font-size="10" text-anchor="end" fill="#111">10<tspan font-size="5.6" dy="-4.30">2</tspan></text>
<line x1="339.00" y1="557.40" x2="341.30" y2="557.40" stroke="#2a2a2a" stroke-width="0.9"/>
<text transform="translate(339.50,561.15) scale(0.97,1)" font-size="10" text-anchor="end" fill="#111">10<tspan font-size="5.6" dy="-4.30">1</tspan></text>
<line x1="339.00" y1="576.30" x2="341.30" y2="576.30" stroke="#2a2a2a" stroke-width="0.9"/>
<text transform="translate(339.50,580.41) scale(0.97,1)" font-size="10" text-anchor="end" fill="#111">10<tspan font-size="5.6" dy="-4.30">0</tspan></text>
<line x1="339.00" y1="595.20" x2="341.30" y2="595.20" stroke="#2a2a2a" stroke-width="0.9"/>
<text transform="translate(339.50,599.68) scale(0.97,1)" font-size="10" text-anchor="end" fill="#111">10<tspan font-size="5.6" dy="-4.30">-1</tspan></text>
<line x1="352.90" y1="595.20" x2="352.90" y2="597.00" stroke="#1a1a1a" stroke-width="0.9"/>
<line x1="376.30" y1="595.20" x2="376.30" y2="597.00" stroke="#1a1a1a" stroke-width="0.9"/>
<line x1="399.80" y1="595.20" x2="399.80" y2="597.00" stroke="#1a1a1a" stroke-width="0.9"/>
<line x1="423.50" y1="595.20" x2="423.50" y2="597.00" stroke="#1a1a1a" stroke-width="0.9"/>
<line x1="447.00" y1="595.20" x2="447.00" y2="597.00" stroke="#1a1a1a" stroke-width="0.9"/>
<line x1="470.60" y1="595.20" x2="470.60" y2="597.00" stroke="#1a1a1a" stroke-width="0.9"/>
<text transform="translate(296.30,530.20) rotate(-90)" font-size="12" text-anchor="middle" fill="#111" >CD4+ T cell count</text>
<text transform="translate(310.80,529.00) rotate(-90)" font-size="12" text-anchor="middle" fill="#111" >(cells/uL blood)</text>
<text x="312.00" y="612.50" font-size="11.5" text-anchor="start" font-weight="normal" font-style="normal" fill="#111" >HIV:</text>
<text x="307.00" y="626.00" font-size="11.8" text-anchor="start" font-weight="normal" font-style="normal" fill="#111" >ZFN:</text>
<text x="353.30" y="609.60" font-size="9" text-anchor="middle" font-weight="normal" font-style="normal" fill="#111" >-</text>
<text x="376.80" y="609.60" font-size="9" text-anchor="middle" font-weight="normal" font-style="normal" fill="#111" >+</text>
<text x="400.00" y="609.60" font-size="9" text-anchor="middle" font-weight="normal" font-style="normal" fill="#111" >-</text>
<text x="423.60" y="609.60" font-size="9" text-anchor="middle" font-weight="normal" font-style="normal" fill="#111" >+</text>
<text x="447.00" y="609.60" font-size="9" text-anchor="middle" font-weight="normal" font-style="normal" fill="#111" >-</text>
<text x="470.60" y="609.60" font-size="9" text-anchor="middle" font-weight="normal" font-style="normal" fill="#111" >+</text>
<line x1="350.00" y1="612.30" x2="382.50" y2="612.30" stroke="#444" stroke-width="0.8"/>
<line x1="397.00" y1="612.30" x2="429.00" y2="612.30" stroke="#444" stroke-width="0.8"/>
<line x1="445.30" y1="612.30" x2="476.60" y2="612.30" stroke="#444" stroke-width="0.8"/>
<text x="365.00" y="626.00" font-size="11.8" text-anchor="middle" font-weight="normal" font-style="normal" fill="#111" >Mock</text>
<text x="412.50" y="626.00" font-size="11.8" text-anchor="middle" font-weight="normal" font-style="normal" fill="#111" >R5</text>
<text x="458.70" y="626.00" font-size="11.8" text-anchor="middle" font-weight="normal" font-style="normal" fill="#111" >R5X4</text>
<path d="M376.3,550.8 L376.3,477.5 L471.3,477.5 L471.3,532.8" stroke="#333" stroke-width="0.9" fill="none"/>
<path d="M427.5,567.5 L427.5,495 L468.9,495 L468.9,532.8" stroke="#333" stroke-width="0.9" fill="none"/>
<text x="422.50" y="475.00" font-size="8.6" text-anchor="middle" font-weight="normal" font-style="normal" fill="#111" ><tspan font-style="italic">P</tspan>=.0011</text>
<text x="446.20" y="491.10" font-size="8.6" text-anchor="middle" font-weight="normal" font-style="normal" fill="#111" ><tspan font-style="italic">P</tspan>=.0004</text>
<circle cx="348.08" cy="502.31" r="1.4" fill="#fff" stroke="#333" stroke-width="0.75"/>
<circle cx="352.88" cy="503.65" r="1.4" fill="#fff" stroke="#333" stroke-width="0.75"/>
<circle cx="348.08" cy="506.54" r="1.4" fill="#fff" stroke="#333" stroke-width="0.75"/>
<circle cx="355.19" cy="506.54" r="1.4" fill="#fff" stroke="#333" stroke-width="0.75"/>
<circle cx="350.77" cy="509.42" r="1.4" fill="#fff" stroke="#333" stroke-width="0.75"/>
<circle cx="352.88" cy="510.00" r="1.4" fill="#fff" stroke="#333" stroke-width="0.75"/>
<circle cx="358.08" cy="509.42" r="1.4" fill="#fff" stroke="#333" stroke-width="0.75"/>
<circle cx="348.08" cy="520.58" r="1.4" fill="#fff" stroke="#333" stroke-width="0.75"/>
<circle cx="352.88" cy="521.92" r="1.4" fill="#fff" stroke="#333" stroke-width="0.75"/>
<circle cx="352.88" cy="539.62" r="1.4" fill="#fff" stroke="#333" stroke-width="0.75"/>
<line x1="345.60" y1="508.50" x2="361.00" y2="508.50" stroke="#1a1a1a" stroke-width="0.8"/>
<line x1="349.80" y1="507.50" x2="356.80" y2="507.50" stroke="#1a1a1a" stroke-width="0.7200000000000001"/>
<line x1="349.80" y1="510.40" x2="356.80" y2="510.40" stroke="#1a1a1a" stroke-width="0.7200000000000001"/>
<line x1="353.30" y1="507.50" x2="353.30" y2="510.40" stroke="#1a1a1a" stroke-width="0.7200000000000001"/>
<circle cx="376.35" cy="556.92" r="1.7" fill="#111"/>
<circle cx="376.35" cy="566.15" r="1.7" fill="#111"/>
<circle cx="372.12" cy="574.81" r="1.7" fill="#111"/>
<circle cx="376.35" cy="573.85" r="1.7" fill="#111"/>
<circle cx="381.15" cy="574.81" r="1.7" fill="#111"/>
<circle cx="376.35" cy="582.12" r="1.7" fill="#111"/>
<circle cx="376.35" cy="589.62" r="1.7" fill="#111"/>
<circle cx="381.15" cy="589.62" r="1.7" fill="#111"/>
<line x1="369.10" y1="569.60" x2="384.10" y2="569.60" stroke="#1a1a1a" stroke-width="0.8"/>
<line x1="372.60" y1="566.20" x2="380.60" y2="566.20" stroke="#1a1a1a" stroke-width="0.7200000000000001"/>
<line x1="372.60" y1="572.30" x2="380.60" y2="572.30" stroke="#1a1a1a" stroke-width="0.7200000000000001"/>
<line x1="376.60" y1="566.20" x2="376.60" y2="572.30" stroke="#1a1a1a" stroke-width="0.7200000000000001"/>
<path d="M395.19,496.33 L396.74,499.12 L393.64,499.12 Z" fill="#fff" stroke="#333" stroke-width="0.7"/>
<path d="M405.19,496.91 L406.74,499.70 L403.64,499.70 Z" fill="#fff" stroke="#333" stroke-width="0.7"/>
<path d="M400.38,498.26 L401.93,501.05 L398.83,501.05 Z" fill="#fff" stroke="#333" stroke-width="0.7"/>
<path d="M395.19,501.53 L396.74,504.32 L393.64,504.32 Z" fill="#fff" stroke="#333" stroke-width="0.7"/>
<path d="M400.38,504.99 L401.93,507.78 L398.83,507.78 Z" fill="#fff" stroke="#333" stroke-width="0.7"/>
<path d="M400.38,510.37 L401.93,513.16 L398.83,513.16 Z" fill="#fff" stroke="#333" stroke-width="0.7"/>
<path d="M400.38,524.22 L401.93,527.01 L398.83,527.01 Z" fill="#fff" stroke="#333" stroke-width="0.7"/>
<path d="M405.19,541.53 L406.74,544.32 L403.64,544.32 Z" fill="#fff" stroke="#333" stroke-width="0.7"/>
<path d="M400.38,545.37 L401.93,548.16 L398.83,548.16 Z" fill="#fff" stroke="#333" stroke-width="0.7"/>
<line x1="392.70" y1="504.60" x2="407.70" y2="504.60" stroke="#1a1a1a" stroke-width="0.8"/>
<line x1="396.20" y1="503.00" x2="404.20" y2="503.00" stroke="#1a1a1a" stroke-width="0.7200000000000001"/>
<line x1="396.20" y1="507.50" x2="404.20" y2="507.50" stroke="#1a1a1a" stroke-width="0.7200000000000001"/>
<line x1="400.20" y1="503.00" x2="400.20" y2="507.50" stroke="#1a1a1a" stroke-width="0.7200000000000001"/>
<path d="M423.85,570.98 L425.75,574.40 L421.95,574.40 Z" fill="#111"/>
<path d="M428.65,570.98 L430.55,574.40 L426.75,574.40 Z" fill="#111"/>
<path d="M423.85,577.33 L425.75,580.75 L421.95,580.75 Z" fill="#111"/>
<path d="M419.62,581.56 L421.52,584.98 L417.72,584.98 Z" fill="#111"/>
<path d="M423.85,581.56 L425.75,584.98 L421.95,584.98 Z" fill="#111"/>
<path d="M428.27,581.56 L430.17,584.98 L426.37,584.98 Z" fill="#111"/>
<path d="M423.85,584.45 L425.75,587.87 L421.95,587.87 Z" fill="#111"/>
<path d="M421.54,579.64 L423.44,583.06 L419.64,583.06 Z" fill="#111"/>
<path d="M426.15,579.64 L428.05,583.06 L424.25,583.06 Z" fill="#111"/>
<line x1="416.40" y1="579.20" x2="431.20" y2="579.20" stroke="#1a1a1a" stroke-width="0.8"/>
<line x1="420.30" y1="577.10" x2="427.30" y2="577.10" stroke="#1a1a1a" stroke-width="0.7200000000000001"/>
<line x1="420.30" y1="581.30" x2="427.30" y2="581.30" stroke="#1a1a1a" stroke-width="0.7200000000000001"/>
<line x1="423.80" y1="577.10" x2="423.80" y2="581.30" stroke="#1a1a1a" stroke-width="0.7200000000000001"/>
<rect x="445.46" y="499.92" width="3.05" height="3.05" fill="#fff" stroke="#333" stroke-width="0.75"/>
<rect x="440.64" y="505.94" width="3.05" height="3.05" fill="#fff" stroke="#333" stroke-width="0.75"/>
<rect x="445.46" y="507.15" width="3.05" height="3.05" fill="#fff" stroke="#333" stroke-width="0.75"/>
<rect x="450.28" y="507.15" width="3.05" height="3.05" fill="#fff" stroke="#333" stroke-width="0.75"/>
<rect x="440.64" y="510.28" width="3.05" height="3.05" fill="#fff" stroke="#333" stroke-width="0.75"/>
<rect x="445.46" y="510.76" width="3.05" height="3.05" fill="#fff" stroke="#333" stroke-width="0.75"/>
<rect x="450.28" y="509.56" width="3.05" height="3.05" fill="#fff" stroke="#333" stroke-width="0.75"/>
<rect x="445.46" y="515.10" width="3.05" height="3.05" fill="#fff" stroke="#333" stroke-width="0.75"/>
<rect x="450.28" y="523.29" width="3.05" height="3.05" fill="#fff" stroke="#333" stroke-width="0.75"/>
<rect x="445.46" y="527.63" width="3.05" height="3.05" fill="#fff" stroke="#333" stroke-width="0.75"/>
<line x1="439.20" y1="509.90" x2="454.80" y2="509.90" stroke="#1a1a1a" stroke-width="0.8"/>
<line x1="443.50" y1="508.50" x2="450.50" y2="508.50" stroke="#1a1a1a" stroke-width="0.7200000000000001"/>
<line x1="443.50" y1="511.30" x2="450.50" y2="511.30" stroke="#1a1a1a" stroke-width="0.7200000000000001"/>
<line x1="447.00" y1="508.50" x2="447.00" y2="511.30" stroke="#1a1a1a" stroke-width="0.7200000000000001"/>
<rect x="468.95" y="532.81" width="3.3" height="3.3" fill="#111"/>
<rect x="474.25" y="532.81" width="3.3" height="3.3" fill="#111"/>
<rect x="464.13" y="537.63" width="3.3" height="3.3" fill="#111"/>
<rect x="468.95" y="539.07" width="3.3" height="3.3" fill="#111"/>
<rect x="474.25" y="540.76" width="3.3" height="3.3" fill="#111"/>
<rect x="468.95" y="543.17" width="3.3" height="3.3" fill="#111"/>
<rect x="468.95" y="555.22" width="3.3" height="3.3" fill="#111"/>
<rect x="468.95" y="566.06" width="3.3" height="3.3" fill="#111"/>
<line x1="463.30" y1="540.70" x2="478.50" y2="540.70" stroke="#1a1a1a" stroke-width="0.8"/>
<line x1="467.40" y1="539.00" x2="474.40" y2="539.00" stroke="#1a1a1a" stroke-width="0.7200000000000001"/>
<line x1="467.40" y1="542.40" x2="474.40" y2="542.40" stroke="#1a1a1a" stroke-width="0.7200000000000001"/>
<line x1="470.90" y1="539.00" x2="470.90" y2="542.40" stroke="#1a1a1a" stroke-width="0.7200000000000001"/>
<text x="134.00" y="661.30" font-size="11.8" text-anchor="middle" font-weight="normal" font-style="normal" fill="#111" >Day 34</text>
<line x1="69.10" y1="685.80" x2="69.10" y2="799.22" stroke="#2a2a2a" stroke-width="0.95"/>
<line x1="69.10" y1="799.22" x2="209.20" y2="799.22" stroke="#2a2a2a" stroke-width="0.95"/>
<line x1="66.80" y1="686.30" x2="69.10" y2="686.30" stroke="#2a2a2a" stroke-width="0.9"/>
<text transform="translate(67.30,691.68) scale(0.97,1)" font-size="10" text-anchor="end" fill="#111">10<tspan font-size="5.6" dy="-4.30">5</tspan></text>
<line x1="66.80" y1="705.12" x2="69.10" y2="705.12" stroke="#2a2a2a" stroke-width="0.9"/>
<text transform="translate(67.30,709.90) scale(0.97,1)" font-size="10" text-anchor="end" fill="#111">10<tspan font-size="5.6" dy="-4.30">4</tspan></text>
<line x1="66.80" y1="723.94" x2="69.10" y2="723.94" stroke="#2a2a2a" stroke-width="0.9"/>
<text transform="translate(67.30,728.11) scale(0.97,1)" font-size="10" text-anchor="end" fill="#111">10<tspan font-size="5.6" dy="-4.30">3</tspan></text>
<line x1="66.80" y1="742.76" x2="69.10" y2="742.76" stroke="#2a2a2a" stroke-width="0.9"/>
<text transform="translate(67.30,746.33) scale(0.97,1)" font-size="10" text-anchor="end" fill="#111">10<tspan font-size="5.6" dy="-4.30">2</tspan></text>
<line x1="66.80" y1="761.58" x2="69.10" y2="761.58" stroke="#2a2a2a" stroke-width="0.9"/>
<text transform="translate(67.30,764.55) scale(0.97,1)" font-size="10" text-anchor="end" fill="#111">10<tspan font-size="5.6" dy="-4.30">1</tspan></text>
<line x1="66.80" y1="780.40" x2="69.10" y2="780.40" stroke="#2a2a2a" stroke-width="0.9"/>
<text transform="translate(67.30,782.76) scale(0.97,1)" font-size="10" text-anchor="end" fill="#111">10<tspan font-size="5.6" dy="-4.30">0</tspan></text>
<line x1="66.80" y1="799.22" x2="69.10" y2="799.22" stroke="#2a2a2a" stroke-width="0.9"/>
<text transform="translate(67.30,800.98) scale(0.97,1)" font-size="10" text-anchor="end" fill="#111">10<tspan font-size="5.6" dy="-4.30">1</tspan></text>
<line x1="81.20" y1="799.22" x2="81.20" y2="801.02" stroke="#1a1a1a" stroke-width="0.9"/>
<line x1="104.60" y1="799.22" x2="104.60" y2="801.02" stroke="#1a1a1a" stroke-width="0.9"/>
<line x1="127.50" y1="799.22" x2="127.50" y2="801.02" stroke="#1a1a1a" stroke-width="0.9"/>
<line x1="151.00" y1="799.22" x2="151.00" y2="801.02" stroke="#1a1a1a" stroke-width="0.9"/>
<line x1="174.20" y1="799.22" x2="174.20" y2="801.02" stroke="#1a1a1a" stroke-width="0.9"/>
<line x1="197.50" y1="799.22" x2="197.50" y2="801.02" stroke="#1a1a1a" stroke-width="0.9"/>
<text transform="translate(23.10,737.60) rotate(-90)" font-size="12" text-anchor="middle" fill="#111" textLength="89" lengthAdjust="spacingAndGlyphs">CD4+ T cell count</text>
<text transform="translate(38.60,736.20) rotate(-90)" font-size="12" text-anchor="middle" fill="#111" textLength="76.5" lengthAdjust="spacingAndGlyphs">(cells/uL blood)</text>
<text x="38.80" y="813.80" font-size="12" text-anchor="start" font-weight="normal" font-style="normal" fill="#111" >HIV:</text>
<text x="35.00" y="827.50" font-size="11.8" text-anchor="start" font-weight="normal" font-style="normal" fill="#111" >ZFN:</text>
<text x="78.30" y="812.00" font-size="9" text-anchor="middle" font-weight="normal" font-style="normal" fill="#111" >-</text>
<text x="102.50" y="812.00" font-size="9" text-anchor="middle" font-weight="normal" font-style="normal" fill="#111" >+</text>
<text x="128.00" y="812.00" font-size="9" text-anchor="middle" font-weight="normal" font-style="normal" fill="#111" >-</text>
<text x="152.00" y="812.00" font-size="9" text-anchor="middle" font-weight="normal" font-style="normal" fill="#111" >+</text>
<text x="177.00" y="812.00" font-size="9" text-anchor="middle" font-weight="normal" font-style="normal" fill="#111" >-</text>
<text x="201.20" y="812.00" font-size="9" text-anchor="middle" font-weight="normal" font-style="normal" fill="#111" >+</text>
<line x1="75.00" y1="814.50" x2="108.80" y2="814.50" stroke="#444" stroke-width="0.8"/>
<line x1="124.00" y1="814.50" x2="157.30" y2="814.50" stroke="#444" stroke-width="0.8"/>
<line x1="174.20" y1="814.50" x2="208.00" y2="814.50" stroke="#444" stroke-width="0.8"/>
<text x="90.00" y="827.50" font-size="11.8" text-anchor="middle" font-weight="normal" font-style="normal" fill="#111" >Mock</text>
<text x="138.80" y="828.00" font-size="11.8" text-anchor="middle" font-weight="normal" font-style="normal" fill="#111" >R5</text>
<text x="188.20" y="828.20" font-size="11.8" text-anchor="middle" font-weight="normal" font-style="normal" fill="#111" >R5X4</text>
<path d="M101.3,746 L101.3,678 L200.7,678 L200.7,727.3" stroke="#333" stroke-width="0.9" fill="none"/>
<path d="M148.8,767.7 L148.8,699.1 L191.5,699.1 L191.5,733" stroke="#333" stroke-width="0.9" fill="none"/>
<text x="150.00" y="675.00" font-size="8.6" text-anchor="middle" font-weight="normal" font-style="normal" fill="#111" ><tspan font-style="italic">P</tspan>=.0016</text>
<text x="168.50" y="695.70" font-size="8.6" text-anchor="middle" font-weight="normal" font-style="normal" fill="#111" ><tspan font-style="italic">P</tspan>=.0006</text>
<circle cx="81.15" cy="707.50" r="1.4" fill="#fff" stroke="#333" stroke-width="0.75"/>
<circle cx="78.27" cy="710.38" r="1.4" fill="#fff" stroke="#333" stroke-width="0.75"/>
<circle cx="84.04" cy="710.38" r="1.4" fill="#fff" stroke="#333" stroke-width="0.75"/>
<circle cx="76.35" cy="712.69" r="1.4" fill="#fff" stroke="#333" stroke-width="0.75"/>
<circle cx="81.15" cy="712.69" r="1.4" fill="#fff" stroke="#333" stroke-width="0.75"/>
<circle cx="85.96" cy="712.69" r="1.4" fill="#fff" stroke="#333" stroke-width="0.75"/>
<circle cx="81.15" cy="734.42" r="1.4" fill="#fff" stroke="#333" stroke-width="0.75"/>
<circle cx="81.15" cy="760.77" r="1.4" fill="#fff" stroke="#333" stroke-width="0.75"/>
<circle cx="81.15" cy="768.08" r="1.4" fill="#fff" stroke="#333" stroke-width="0.75"/>
<line x1="74.30" y1="713.80" x2="88.50" y2="713.80" stroke="#1a1a1a" stroke-width="0.8"/>
<line x1="77.90" y1="712.70" x2="84.90" y2="712.70" stroke="#1a1a1a" stroke-width="0.7200000000000001"/>
<line x1="77.90" y1="716.20" x2="84.90" y2="716.20" stroke="#1a1a1a" stroke-width="0.7200000000000001"/>
<line x1="81.40" y1="712.70" x2="81.40" y2="716.20" stroke="#1a1a1a" stroke-width="0.7200000000000001"/>
<circle cx="104.62" cy="755.96" r="1.7" fill="#111"/>
<circle cx="104.62" cy="774.81" r="1.7" fill="#111"/>
<circle cx="109.62" cy="780.58" r="1.7" fill="#111"/>
<circle cx="104.62" cy="782.50" r="1.7" fill="#111"/>
<circle cx="100.00" cy="785.38" r="1.7" fill="#111"/>
<circle cx="104.62" cy="788.27" r="1.7" fill="#111"/>
<circle cx="109.62" cy="795.00" r="1.7" fill="#111"/>
<circle cx="104.62" cy="798.85" r="1.7" fill="#111"/>
<line x1="97.00" y1="771.00" x2="112.00" y2="771.00" stroke="#1a1a1a" stroke-width="0.8"/>
<line x1="100.10" y1="766.20" x2="108.90" y2="766.20" stroke="#1a1a1a" stroke-width="0.7200000000000001"/>
<line x1="100.10" y1="776.80" x2="108.90" y2="776.80" stroke="#1a1a1a" stroke-width="0.7200000000000001"/>
<line x1="104.50" y1="766.20" x2="104.50" y2="776.80" stroke="#1a1a1a" stroke-width="0.7200000000000001"/>
<path d="M127.31,705.95 L128.86,708.74 L125.76,708.74 Z" fill="#fff" stroke="#333" stroke-width="0.7"/>
<path d="M127.31,723.26 L128.86,726.05 L125.76,726.05 Z" fill="#fff" stroke="#333" stroke-width="0.7"/>
<path d="M127.31,728.45 L128.86,731.24 L125.76,731.24 Z" fill="#fff" stroke="#333" stroke-width="0.7"/>
<path d="M122.50,768.83 L124.05,771.62 L120.95,771.62 Z" fill="#fff" stroke="#333" stroke-width="0.7"/>
<path d="M127.31,769.80 L128.86,772.59 L125.76,772.59 Z" fill="#fff" stroke="#333" stroke-width="0.7"/>
<path d="M132.12,772.68 L133.67,775.47 L130.57,775.47 Z" fill="#fff" stroke="#333" stroke-width="0.7"/>
<path d="M127.31,777.10 L128.86,779.89 L125.76,779.89 Z" fill="#fff" stroke="#333" stroke-width="0.7"/>
<line x1="119.90" y1="722.00" x2="135.30" y2="722.00" stroke="#1a1a1a" stroke-width="0.8"/>
<line x1="123.30" y1="717.20" x2="131.90" y2="717.20" stroke="#1a1a1a" stroke-width="0.7200000000000001"/>
<line x1="123.30" y1="735.40" x2="131.90" y2="735.40" stroke="#1a1a1a" stroke-width="0.7200000000000001"/>
<line x1="127.60" y1="717.20" x2="127.60" y2="735.40" stroke="#1a1a1a" stroke-width="0.7200000000000001"/>
<path d="M151.08,772.03 L152.98,775.45 L149.18,775.45 Z" fill="#111"/>
<path d="M145.77,786.57 L147.67,789.99 L143.87,789.99 Z" fill="#111"/>
<path d="M156.16,786.57 L158.06,789.99 L154.26,789.99 Z" fill="#111"/>
<path d="M148.77,793.03 L150.67,796.45 L146.87,796.45 Z" fill="#111"/>
<path d="M145.77,798.11 L147.67,801.53 L143.87,801.53 Z" fill="#111"/>
<path d="M151.08,798.11 L152.98,801.53 L149.18,801.53 Z" fill="#111"/>
<path d="M155.69,798.11 L157.59,801.53 L153.79,801.53 Z" fill="#111"/>
<line x1="143.50" y1="789.20" x2="158.50" y2="789.20" stroke="#1a1a1a" stroke-width="0.8"/>
<line x1="147.30" y1="784.30" x2="154.70" y2="784.30" stroke="#1a1a1a" stroke-width="0.7200000000000001"/>
<line x1="147.30" y1="799.00" x2="154.70" y2="799.00" stroke="#1a1a1a" stroke-width="0.7200000000000001"/>
<line x1="151.00" y1="784.30" x2="151.00" y2="799.00" stroke="#1a1a1a" stroke-width="0.7200000000000001"/>
<rect x="172.63" y="706.86" width="3.05" height="3.05" fill="#fff" stroke="#333" stroke-width="0.75"/>
<rect x="172.63" y="711.94" width="3.05" height="3.05" fill="#fff" stroke="#333" stroke-width="0.75"/>
<rect x="168.48" y="717.02" width="3.05" height="3.05" fill="#fff" stroke="#333" stroke-width="0.75"/>
<rect x="172.63" y="717.02" width="3.05" height="3.05" fill="#fff" stroke="#333" stroke-width="0.75"/>
<rect x="176.55" y="717.71" width="3.05" height="3.05" fill="#fff" stroke="#333" stroke-width="0.75"/>
<rect x="172.63" y="721.17" width="3.05" height="3.05" fill="#fff" stroke="#333" stroke-width="0.75"/>
<rect x="172.63" y="725.79" width="3.05" height="3.05" fill="#fff" stroke="#333" stroke-width="0.75"/>
<rect x="172.63" y="736.64" width="3.05" height="3.05" fill="#fff" stroke="#333" stroke-width="0.75"/>
<rect x="172.63" y="743.56" width="3.05" height="3.05" fill="#fff" stroke="#333" stroke-width="0.75"/>
<rect x="172.63" y="750.48" width="3.05" height="3.05" fill="#fff" stroke="#333" stroke-width="0.75"/>
<line x1="166.50" y1="719.20" x2="181.90" y2="719.20" stroke="#1a1a1a" stroke-width="0.8"/>
<line x1="170.70" y1="717.50" x2="177.70" y2="717.50" stroke="#1a1a1a" stroke-width="0.7200000000000001"/>
<line x1="170.70" y1="721.50" x2="177.70" y2="721.50" stroke="#1a1a1a" stroke-width="0.7200000000000001"/>
<line x1="174.20" y1="717.50" x2="174.20" y2="721.50" stroke="#1a1a1a" stroke-width="0.7200000000000001"/>
<rect x="200.66" y="741.82" width="3.3" height="3.3" fill="#111"/>
<rect x="195.59" y="744.13" width="3.3" height="3.3" fill="#111"/>
<rect x="200.66" y="744.59" width="3.3" height="3.3" fill="#111"/>
<rect x="190.97" y="748.74" width="3.3" height="3.3" fill="#111"/>
<rect x="195.59" y="749.90" width="3.3" height="3.3" fill="#111"/>
<rect x="195.59" y="754.51" width="3.3" height="3.3" fill="#111"/>
<rect x="190.97" y="756.82" width="3.3" height="3.3" fill="#111"/>
<rect x="195.59" y="760.28" width="3.3" height="3.3" fill="#111"/>
<rect x="195.59" y="777.13" width="3.3" height="3.3" fill="#111"/>
<line x1="190.30" y1="750.40" x2="205.70" y2="750.40" stroke="#1a1a1a" stroke-width="0.8"/>
<line x1="194.50" y1="748.20" x2="201.50" y2="748.20" stroke="#1a1a1a" stroke-width="0.7200000000000001"/>
<line x1="194.50" y1="752.60" x2="201.50" y2="752.60" stroke="#1a1a1a" stroke-width="0.7200000000000001"/>
<line x1="198.00" y1="748.20" x2="198.00" y2="752.60" stroke="#1a1a1a" stroke-width="0.7200000000000001"/>
<text x="411.70" y="657.00" font-size="11.8" text-anchor="middle" font-weight="normal" font-style="normal" fill="#111" >Day 55</text>
<line x1="341.20" y1="674.90" x2="341.20" y2="795.40" stroke="#2a2a2a" stroke-width="0.95"/>
<line x1="341.20" y1="795.40" x2="482.40" y2="795.40" stroke="#2a2a2a" stroke-width="0.95"/>
<line x1="338.90" y1="675.40" x2="341.20" y2="675.40" stroke="#2a2a2a" stroke-width="0.9"/>
<text transform="translate(339.40,677.68) scale(0.97,1)" font-size="10" text-anchor="end" fill="#111">10<tspan font-size="5.6" dy="-4.30">5</tspan></text>
<line x1="338.90" y1="695.40" x2="341.20" y2="695.40" stroke="#2a2a2a" stroke-width="0.9"/>
<text transform="translate(339.40,698.21) scale(0.97,1)" font-size="10" text-anchor="end" fill="#111">10<tspan font-size="5.6" dy="-4.30">4</tspan></text>
<line x1="338.90" y1="715.40" x2="341.20" y2="715.40" stroke="#2a2a2a" stroke-width="0.9"/>
<text transform="translate(339.40,718.75) scale(0.97,1)" font-size="10" text-anchor="end" fill="#111">10<tspan font-size="5.6" dy="-4.30">3</tspan></text>
<line x1="338.90" y1="735.40" x2="341.20" y2="735.40" stroke="#2a2a2a" stroke-width="0.9"/>
<text transform="translate(339.40,739.28) scale(0.97,1)" font-size="10" text-anchor="end" fill="#111">10<tspan font-size="5.6" dy="-4.30">2</tspan></text>
<line x1="338.90" y1="755.40" x2="341.20" y2="755.40" stroke="#2a2a2a" stroke-width="0.9"/>
<text transform="translate(339.40,759.81) scale(0.97,1)" font-size="10" text-anchor="end" fill="#111">10<tspan font-size="5.6" dy="-4.30">1</tspan></text>
<line x1="338.90" y1="775.40" x2="341.20" y2="775.40" stroke="#2a2a2a" stroke-width="0.9"/>
<text transform="translate(339.40,780.35) scale(0.97,1)" font-size="10" text-anchor="end" fill="#111">10<tspan font-size="5.6" dy="-4.30">0</tspan></text>
<line x1="338.90" y1="795.40" x2="341.20" y2="795.40" stroke="#2a2a2a" stroke-width="0.9"/>
<text transform="translate(339.40,800.88) scale(0.97,1)" font-size="10" text-anchor="end" fill="#111">10<tspan font-size="5.6" dy="-4.30">-1</tspan></text>
<line x1="365.50" y1="795.40" x2="365.50" y2="797.20" stroke="#1a1a1a" stroke-width="0.9"/>
<line x1="412.70" y1="795.40" x2="412.70" y2="797.20" stroke="#1a1a1a" stroke-width="0.9"/>
<line x1="459.30" y1="795.40" x2="459.30" y2="797.20" stroke="#1a1a1a" stroke-width="0.9"/>
<text transform="translate(296.40,725.10) rotate(-90)" font-size="12" text-anchor="middle" fill="#111" xml:space="preserve" textLength="103" lengthAdjust="spacingAndGlyphs">CD4+ T  cell count</text>
<text transform="translate(310.70,724.00) rotate(-90)" font-size="12" text-anchor="middle" fill="#111" textLength="85.3" lengthAdjust="spacingAndGlyphs">(cells/uL blood)</text>
<text x="312.00" y="813.40" font-size="11.5" text-anchor="start" font-weight="normal" font-style="normal" fill="#111" >HIV:</text>
<text x="308.00" y="825.90" font-size="11.8" text-anchor="start" font-weight="normal" font-style="normal" fill="#111" >ZFN:</text>
<text x="365.70" y="809.50" font-size="9" text-anchor="middle" font-weight="normal" font-style="normal" fill="#111" >+</text>
<text x="412.70" y="809.50" font-size="9" text-anchor="middle" font-weight="normal" font-style="normal" fill="#111" >+</text>
<text x="459.30" y="809.50" font-size="9" text-anchor="middle" font-weight="normal" font-style="normal" fill="#111" >+</text>
<line x1="351.90" y1="813.30" x2="379.50" y2="813.30" stroke="#333" stroke-width="0.85"/>
<line x1="398.00" y1="813.30" x2="426.50" y2="813.30" stroke="#333" stroke-width="0.85"/>
<line x1="441.50" y1="813.30" x2="473.40" y2="813.30" stroke="#333" stroke-width="0.85"/>
<text x="364.60" y="825.50" font-size="11.8" text-anchor="middle" font-weight="normal" font-style="normal" fill="#111" >Mock</text>
<text x="411.70" y="826.50" font-size="11.8" text-anchor="middle" font-weight="normal" font-style="normal" fill="#111" >R5</text>
<text x="457.70" y="826.50" font-size="11.8" text-anchor="middle" font-weight="normal" font-style="normal" fill="#111" >R5X4</text>
<line x1="365.00" y1="687.30" x2="458.80" y2="687.30" stroke="#444" stroke-width="0.8"/>
<text x="409.50" y="685.00" font-size="8.6" text-anchor="middle" font-weight="normal" font-style="normal" fill="#111" ><tspan font-style="italic">P</tspan>=.0006</text>
<line x1="415.70" y1="725.50" x2="459.50" y2="725.50" stroke="#444" stroke-width="0.8"/>
<text x="435.40" y="722.00" font-size="8.6" text-anchor="middle" font-weight="normal" font-style="normal" fill="#111" ><tspan font-style="italic">P</tspan>=.0004</text>
<circle cx="355.40" cy="795.40" r="1.85" fill="#111"/>
<circle cx="360.20" cy="795.40" r="1.85" fill="#111"/>
<circle cx="362.90" cy="795.40" r="1.85" fill="#111"/>
<circle cx="365.50" cy="795.40" r="1.85" fill="#111"/>
<circle cx="368.20" cy="795.40" r="1.85" fill="#111"/>
<circle cx="370.80" cy="795.40" r="1.85" fill="#111"/>
<circle cx="374.60" cy="795.40" r="1.85" fill="#111"/>
<circle cx="365.00" cy="789.30" r="1.75" fill="#111"/>
<line x1="349.60" y1="795.40" x2="380.40" y2="795.40" stroke="#1a1a1a" stroke-width="1.3"/>
<path d="M402.50,793.40 L404.80,797.54 L400.20,797.54 Z" fill="#111"/>
<path d="M407.30,793.40 L409.60,797.54 L405.00,797.54 Z" fill="#111"/>
<path d="M410.20,793.40 L412.50,797.54 L407.90,797.54 Z" fill="#111"/>
<path d="M413.00,793.40 L415.30,797.54 L410.70,797.54 Z" fill="#111"/>
<path d="M415.90,793.40 L418.20,797.54 L413.60,797.54 Z" fill="#111"/>
<path d="M418.80,793.40 L421.10,797.54 L416.50,797.54 Z" fill="#111"/>
<path d="M421.70,793.40 L424.00,797.54 L419.40,797.54 Z" fill="#111"/>
<path d="M407.30,784.40 L409.30,788.00 L405.30,788.00 Z" fill="#111"/>
<path d="M412.10,788.30 L414.10,791.90 L410.10,791.90 Z" fill="#111"/>
<line x1="396.70" y1="793.40" x2="427.50" y2="793.40" stroke="#1a1a1a" stroke-width="0.7"/>
<line x1="404.10" y1="792.30" x2="420.10" y2="792.30" stroke="#1a1a1a" stroke-width="0.63"/>
<line x1="404.10" y1="794.60" x2="420.10" y2="794.60" stroke="#1a1a1a" stroke-width="0.63"/>
<line x1="412.10" y1="792.30" x2="412.10" y2="794.60" stroke="#1a1a1a" stroke-width="0.63"/>
<rect x="457.20" y="735.59" width="3.3" height="3.3" fill="#111"/>
<rect x="452.12" y="742.51" width="3.3" height="3.3" fill="#111"/>
<rect x="462.28" y="743.43" width="3.3" height="3.3" fill="#111"/>
<rect x="457.20" y="746.43" width="3.3" height="3.3" fill="#111"/>
<rect x="452.12" y="757.97" width="3.3" height="3.3" fill="#111"/>
<rect x="457.20" y="760.28" width="3.3" height="3.3" fill="#111"/>
<rect x="462.28" y="757.97" width="3.3" height="3.3" fill="#111"/>
<rect x="457.20" y="777.13" width="3.3" height="3.3" fill="#111"/>
<line x1="443.40" y1="747.60" x2="474.40" y2="747.60" stroke="#1a1a1a" stroke-width="0.8"/>
<line x1="451.10" y1="743.50" x2="466.70" y2="743.50" stroke="#1a1a1a" stroke-width="0.7200000000000001"/>
<line x1="451.10" y1="752.20" x2="466.70" y2="752.20" stroke="#1a1a1a" stroke-width="0.7200000000000001"/>
<line x1="458.90" y1="743.50" x2="458.90" y2="752.20" stroke="#1a1a1a" stroke-width="0.7200000000000001"/>
</g>
</svg>
</body></html>
